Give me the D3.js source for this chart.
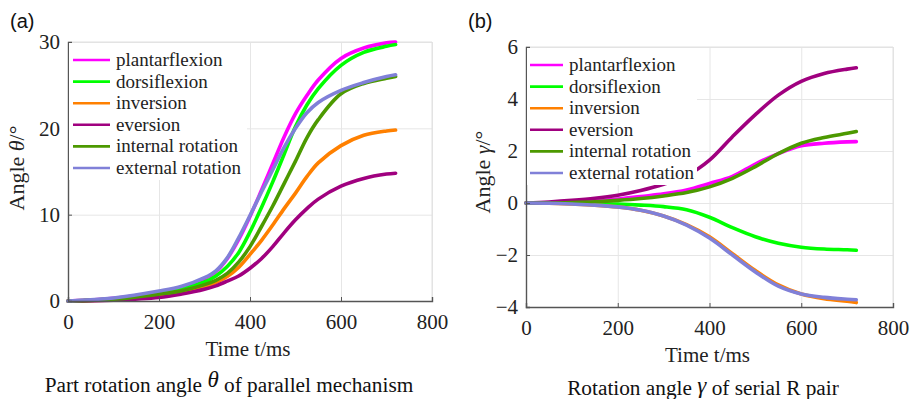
<!DOCTYPE html>
<html>
<head>
<meta charset="utf-8">
<script src="https://cdn.jsdelivr.net/npm/d3@7"></script>
<style>
  body { margin: 0; background: #fff; }
  svg { display: block; }
</style>
</head>
<body>
<div id="plot"></div>
<script>
// series names + colours (legend order)
const names = ['plantarflexion', 'dorsiflexion', 'inversion', 'eversion', 'internal rotation', 'external rotation'];
const colors = ['#ff00ff', '#00ff00', '#ff8000', '#a0007f', '#4c9900', '#8080d8'];

// panel (a): part rotation angle theta, degrees
const timesA = [0, 100, 200, 250, 300, 325, 350, 375, 400, 425, 450, 475, 500, 525, 550, 600, 650, 700, 720];
const plantarA = [0, 0.3, 1.05, 1.6, 2.6, 3.4, 4.9, 7.1, 9.8, 12.8, 15.9, 19.0, 21.7, 23.8, 25.6, 28.1, 29.3, 29.9, 30.0];
const dorsiA = [0, 0.25, 0.9, 1.4, 2.2, 2.9, 4.0, 5.6, 8.0, 10.8, 13.8, 17.0, 20.2, 22.7, 24.6, 27.3, 28.8, 29.5, 29.7];
const inversionA = [0, 0.15, 0.6, 1.0, 1.6, 2.15, 2.85, 3.9, 5.4, 7.0, 8.8, 10.7, 12.5, 14.4, 16.0, 18.0, 19.2, 19.7, 19.8];
const eversionA = [0, 0.1, 0.4, 0.8, 1.35, 1.75, 2.3, 2.9, 3.8, 4.9, 6.3, 7.9, 9.4, 10.7, 11.8, 13.3, 14.2, 14.7, 14.8];
const internalA = [0, 0.2, 0.8, 1.2, 1.9, 2.4, 3.2, 4.5, 6.3, 8.6, 11.0, 13.6, 16.2, 18.9, 21.0, 24.0, 25.2, 25.8, 26.0];
const externalA = [0, 0.35, 1.15, 1.7, 2.7, 3.5, 5.0, 7.3, 9.9, 12.6, 15.2, 17.8, 20.0, 21.8, 23.0, 24.4, 25.3, 26.0, 26.2];

// panel (b): rotation angle gamma of serial R pair, degrees
const timesB = [0, 50, 100, 150, 200, 250, 300, 350, 400, 450, 500, 550, 600, 650, 700, 720];
const plantarB = [0, 0.01, 0.04, 0.08, 0.15, 0.25, 0.35, 0.5, 0.75, 1.02, 1.5, 1.9, 2.2, 2.3, 2.35, 2.36];
const dorsiB = [0, 0, -0.01, -0.02, -0.04, -0.08, -0.14, -0.26, -0.55, -0.95, -1.3, -1.55, -1.7, -1.77, -1.8, -1.82];
const inversionB = [0, -0.01, -0.04, -0.08, -0.15, -0.28, -0.5, -0.83, -1.3, -1.95, -2.6, -3.15, -3.5, -3.68, -3.78, -3.83];
const eversionB = [0, 0.04, 0.1, 0.18, 0.3, 0.48, 0.72, 1.05, 1.65, 2.55, 3.4, 4.15, 4.68, 4.98, 5.15, 5.2];
const internalB = [0, 0, 0.02, 0.05, 0.1, 0.17, 0.27, 0.4, 0.62, 0.95, 1.4, 1.9, 2.3, 2.52, 2.68, 2.75];
const externalB = [0, -0.01, -0.04, -0.08, -0.15, -0.28, -0.5, -0.85, -1.35, -2.0, -2.65, -3.2, -3.5, -3.63, -3.7, -3.72];

const xTicks = [0, 200, 400, 600, 800];
const yTicksA = [0, 10, 20, 30];
const yTicksB = [-4, -2, 0, 2, 4, 6];

const W = 910, H = 399;
const serif = '"Liberation Serif", "Times New Roman", serif';

var svg = d3.select('#plot')
  .append('svg')
  .attr('width', W)
  .attr('height', H);

function drawPanel(p) {
  const xScale = d3.scaleLinear().domain([0, 800]).range([p.left, p.right]);
  const yScale = d3.scaleLinear().domain(p.yDomain).range([p.bottom, p.top]);
  const g = svg.append('g');

  // grid
  g.append('g')
    .attr('transform', `translate(0,${p.bottom})`)
    .call(d3.axisBottom(xScale).tickValues(xTicks).tickSize(-(p.bottom - p.top)).tickFormat(''))
    .call(s => s.select('.domain').remove())
    .selectAll('line').attr('stroke', '#e6e6e6');
  g.append('g')
    .attr('transform', `translate(${p.left},0)`)
    .call(d3.axisLeft(yScale).tickValues(p.yTicks).tickSize(-(p.right - p.left)).tickFormat(''))
    .call(s => s.select('.domain').remove())
    .selectAll('line').attr('stroke', '#e6e6e6');

  // light box top / right
  g.append('path')
    .attr('d', `M${p.left},${p.top}H${p.right}V${p.bottom}`)
    .attr('fill', 'none')
    .attr('stroke', '#e0e0e0');

  // curves
  const line = d3.line()
    .x((d, i) => xScale(p.times[i]))
    .y(d => yScale(d))
    .curve(d3.curveCatmullRom.alpha(0.5));
  p.series.forEach((s, i) => {
    g.append('path')
      .datum(s)
      .attr('d', line)
      .attr('fill', 'none')
      .attr('stroke', colors[i])
      .attr('stroke-width', 3.6)
      .attr('stroke-linecap', 'round');
  });

  // axes (ticks inside)
  const xa = g.append('g')
    .attr('transform', `translate(0,${p.bottom})`)
    .call(d3.axisBottom(xScale).tickValues(xTicks).tickSize(-4).tickPadding(13));
  const ya = g.append('g')
    .attr('transform', `translate(${p.left},0)`)
    .call(d3.axisLeft(yScale).tickValues(p.yTicks).tickSize(-4).tickPadding(8));
  [xa, ya].forEach(a => {
    a.select('.domain').attr('stroke', '#555').attr('stroke-width', 1.4);
    a.selectAll('line').attr('stroke', '#555');
    a.selectAll('text')
      .attr('fill', '#222')
      .style('font-family', serif)
      .style('font-size', '21px');
  });

  // legend (white box covers grid)
  g.append('rect')
    .attr('x', p.left + 1).attr('y', p.top + 1)
    .attr('width', p.legW).attr('height', 137)
    .attr('fill', '#fff');
  names.forEach((n, i) => {
    const y = p.top + 18 + i * 21.6;
    g.append('line')
      .attr('x1', p.left + p.legX0).attr('x2', p.left + p.legX1)
      .attr('y1', y).attr('y2', y)
      .attr('stroke', colors[i]).attr('stroke-width', 2.6);
    g.append('text')
      .attr('x', p.left + p.legX1 + 6).attr('y', y + 6)
      .attr('fill', '#222')
      .style('font-family', serif).style('font-size', '19px')
      .text(n);
  });

  // axis titles
  g.append('text')
    .attr('x', (p.left + p.right) / 2 - 2).attr('y', p.bottom + 55)
    .attr('text-anchor', 'middle')
    .attr('fill', '#222')
    .style('font-family', serif).style('font-size', '21px')
    .text('Time t/ms');

  const yt = g.append('text')
    .attr('transform', `translate(${p.yTitleX},${p.yTitleY}) rotate(-90)`)
    .attr('text-anchor', 'middle')
    .attr('fill', '#222')
    .style('font-family', serif).style('font-size', '22px');
  yt.append('tspan').text('Angle ');
  yt.append('tspan').style('font-style', 'italic').text(p.sym);
  yt.append('tspan').text('/°');

  // panel tag
  g.append('text')
    .attr('x', p.tagX).attr('y', 28)
    .attr('fill', '#111')
    .style('font-family', '"Liberation Sans", Arial, sans-serif').style('font-size', '20px')
    .text(p.tag);

  // caption
  const cap = g.append('text')
    .attr('x', p.capX).attr('y', p.capY)
    .attr('text-anchor', 'middle')
    .attr('fill', '#111')
    .style('font-family', serif).style('font-size', '21.3px');
  cap.append('tspan').text(p.cap[0]);
  cap.append('tspan').style('font-style', 'italic').style('font-size', '23px').attr('dy', p.symDy).text(p.sym);
  cap.append('tspan').attr('dy', -p.symDy).text(p.cap[1]);
}

drawPanel({
  left: 68, right: 432, top: 42, bottom: 301,
  yDomain: [0, 30], yTicks: yTicksA,
  times: timesA,
  series: [plantarA, dorsiA, inversionA, eversionA, internalA, externalA],
  legW: 178, legX0: 5, legX1: 42,
  yTitleX: 24, yTitleY: 168, sym: 'θ',
  tag: '(a)', tagX: 10,
  cap: ['Part rotation angle ', ' of parallel mechanism'], capX: 229, capY: 392, symDy: -5,
});

drawPanel({
  left: 526, right: 893, top: 47, bottom: 307,
  yDomain: [-4, 6], yTicks: yTicksB,
  times: timesB,
  series: [plantarB, dorsiB, inversionB, eversionB, internalB, externalB],
  legW: 170, legX0: 4, legX1: 37,
  yTitleX: 490, yTitleY: 172, sym: 'γ',
  tag: '(b)', tagX: 468,
  cap: ['Rotation angle ', ' of serial R pair'], capX: 703, capY: 395, symDy: -2,
});
</script>
</body>
</html>
